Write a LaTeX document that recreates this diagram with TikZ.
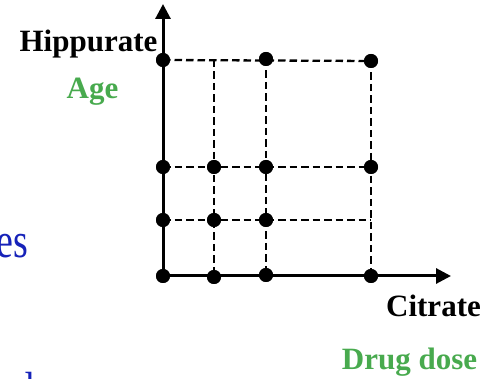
\documentclass[tikz,border=0pt]{standalone}
\usepackage{fontspec}
\setmainfont{Liberation Serif}
\usetikzlibrary{arrows.meta}
\definecolor{lblgreen}{RGB}{72,170,78}
\definecolor{txtblue}{RGB}{22,34,185}
\begin{document}
\begin{tikzpicture}[x=1pt,y=-1pt,
  dot/.style={circle,fill=black,inner sep=0pt,minimum size=14pt},
  gridline/.style={line width=2.3pt,dash pattern=on 7.5pt off 4pt},
  axis/.style={line width=3pt,-{Triangle[length=15pt,width=15pt]}},
  lbl/.style={font=\fontsize{31}{37}\selectfont\bfseries,inner sep=0pt,anchor=base},
]
\clip (0,0) rectangle (501,379);
\useasboundingbox (0,0) rectangle (501,379);
% grid positions
\coordinate (c10) at (214,60);
\coordinate (c32) at (371,220);
\coordinate (ytip) at (163,4);
\coordinate (xtip) at (451,276);
% dots
\node[dot] (d00) at (163,60) {};
\node[dot] (d20) at (266,59) {};
\node[dot] (d30) at (371,61) {};
\node[dot] (d01) at (163,167) {};
\node[dot] (d11) at (214,167) {};
\node[dot] (d21) at (266,167) {};
\node[dot] (d31) at (371,167) {};
\node[dot] (d02) at (163,220) {};
\node[dot] (d12) at (214,220) {};
\node[dot] (d22) at (266,220) {};
\node[dot] (d03) at (163,276) {};
\node[dot] (d13) at (214,277) {};
\node[dot] (d23) at (266,275) {};
\node[dot] (d33) at (371,276) {};
% dashed grid
\draw[gridline] (d00.center) -- (d30.center);
\draw[gridline] (d01.center) -- (d31.center);
\draw[gridline] (d02.center) -- (c32);
\draw[gridline] (c10) -- (d13.center);
\draw[gridline] (d20.center) -- (d23.center);
\draw[gridline] (d30.center) -- (d33.center);
% axes
\draw[axis] (d03.center) -- (ytip);
\draw[axis] (d03.center) -- (xtip);
% redraw dots on top
\foreach \n in {d00,d20,d30,d01,d11,d21,d31,d02,d12,d22,d03,d13,d23,d33}
  \fill (\n) circle (7pt);
% labels
\node[lbl] (hip) at (88.5,51.5) {Hippurate};
\node[lbl,text=lblgreen] (age) at (92.5,99) {Age};
\node[lbl] (cit) at (433.5,316.5) {Citrate};
\node[lbl,text=lblgreen] (drug) at (409.5,370) {Drug dose};
\node[inner sep=0pt,anchor=base east,text=txtblue,font=\fontsize{38}{44}\selectfont] (es) at (28,257.5) {\scalebox{1}[1.3]{es}};
\node[inner sep=0pt,anchor=north east,text=txtblue,font=\fontsize{38}{44}\selectfont] (dd) at (35,372) {\scalebox{1}[1.3]{d}};
\end{tikzpicture}
\end{document}
